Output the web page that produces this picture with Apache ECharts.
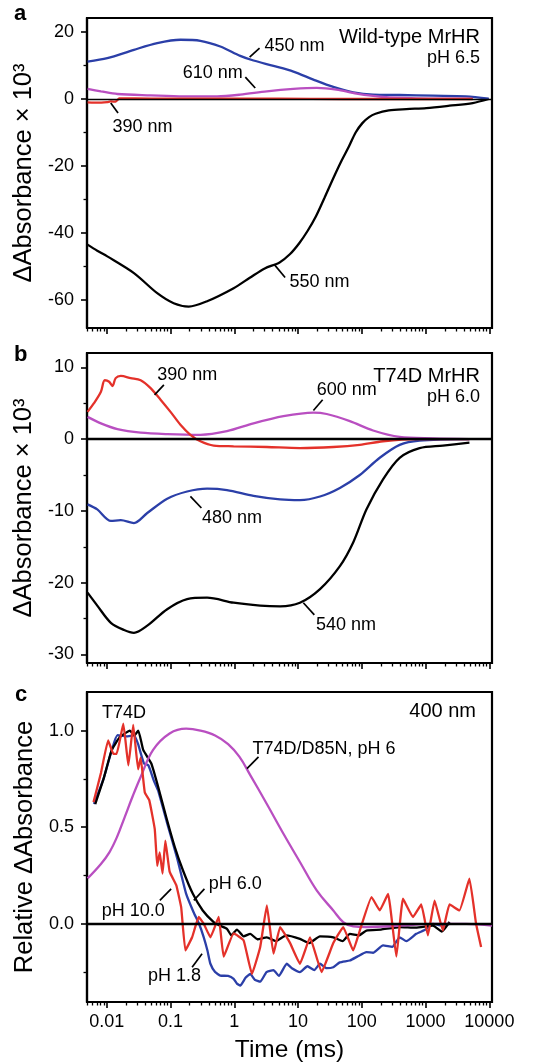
<!DOCTYPE html>
<html><head><meta charset="utf-8">
<script src="https://cdn.jsdelivr.net/npm/echarts@6.0.0/dist/echarts.min.js"></script>
<style>html,body{margin:0;padding:0;background:#fff}#c{width:535px;height:1064px}</style>
</head><body><div id="c"></div>
<script>
const FONT = '"Liberation Sans", Arial, Helvetica, sans-serif';
const BLUE = '#2b3fa8', RED = '#e4312a', MAG = '#b94fc1', BLACK = '#000';

// x axis (time, ms, log)
const timeTicks = [0.01, 0.1, 1, 10, 100, 1000, 10000];
const timeTickLabels = ['0.01', '0.1', '1', '10', '100', '1000', '10000'];
const timeMinor = [];
[0.001, 0.01, 0.1, 1, 10, 100, 1000].forEach(d => { for (let k = 2; k <= 9; k++) { const v = +(k * d).toPrecision(3); if (v >= 0.005 && v < 10000) timeMinor.push(v); } });

// y ticks
const yTicksA = [20, 0, -20, -40, -60], yMinorA = [10, -10, -30, -50];
const yTicksB = [10, 0, -10, -20, -30], yMinorB = [5, -5, -15, -25];
const yTicksC = [0, 0.5, 1], yTickLabelsC = ['0.0', '0.5', '1.0'], yMinorC = [-0.25, 0.25, 0.75];

// Panel a: wild-type MrHR, pH 6.5  [time ms, dA x 1000]
const a550 = [[0.005,-43.5],[0.0071,-45.3],[0.0102,-47],[0.0267,-52],[0.0619,-58],[0.112,-61],[0.193,-62],[0.374,-60.4],[0.977,-56.5],[1.75,-53.4],[3.0,-50.6],[5.13,-48.8],[7.5,-46.3],[10.5,-43],[14,-39.5],[19.1,-35],[26,-29.5],[34.8,-24.1],[47,-18.8],[63,-14.1],[80,-10],[102,-7.2],[130,-5.4],[164,-4.4],[265,-3.4],[500,-3.0],[1024,-2.7],[2371,-2.0],[5490,-1.2],[9770,0]];
const a450 = [[0.005,11.2],[0.0102,12.2],[0.0267,14.7],[0.0619,16.7],[0.143,17.7],[0.294,17.4],[0.604,15.7],[1.24,12.9],[2.0,11.5],[4.12,9.9],[8.45,8.2],[17.4,5.8],[35.7,3.6],[73.2,2.0],[150,1.3],[392,1.2],[1303,1.0],[4315,0.8],[9770,0.1]];
const a610 = [[0.005,3.0],[0.0081,2.3],[0.0147,1.5],[0.0487,1.1],[0.161,0.8],[0.536,0.8],[1.24,1.3],[3.24,2.3],[8.45,3.0],[19.6,3.3],[40.2,2.8],[82.5,1.6],[215,0.6],[714,0.2],[4315,0.1],[5490,0.05]];
const a390 = [[0.005,-1.0],[0.0071,-1.1],[0.0102,-0.9],[0.0116,-0.7],[0.0138,-0.8],[0.0147,-0.3],[0.0156,0.2],[0.05,0.1],[0.5,0.1],[5,0.1],[50,0],[500,0],[5490,0]];

// Panel b: T74D MrHR, pH 6.0
const b390 = [[0.005,3.8],[0.0063,5.0],[0.0081,6.6],[0.0093,8.2],[0.0109,8.0],[0.0123,7.4],[0.0138,8.5],[0.0166,8.8],[0.0237,8.5],[0.034,8.2],[0.0487,7.1],[0.0698,5.5],[0.1,3.8],[0.143,2.0],[0.205,0.6],[0.294,-0.3],[0.475,-0.9],[0.977,-1.0],[3.24,-1.1],[10.7,-1.25],[35.7,-1.1],[93,-0.8],[215,-0.3],[714,0],[4870,0]];
const b600 = [[0.005,3.1],[0.0081,2.2],[0.0147,1.4],[0.034,0.9],[0.0887,0.7],[0.294,0.6],[0.767,1.1],[2.0,2.2],[5.9,3.2],[17.4,3.7],[28.1,3.5],[64.9,2.5],[150,1.2],[392,0.3],[1303,0.1],[4870,0]];
const b480 = [[0.005,-9.1],[0.0071,-9.8],[0.0116,-11.4],[0.0166,-11.3],[0.0267,-11.7],[0.0432,-10.3],[0.0887,-8.3],[0.182,-7.3],[0.374,-6.9],[0.767,-7.1],[2.0,-7.9],[5.23,-8.4],[10.7,-8.5],[22.1,-8.0],[45.3,-6.8],[93,-5.0],[191,-2.6],[392,-0.8],[805,-0.2],[4870,0]];
const b540 = [[0.005,-21.4],[0.0071,-23.2],[0.0116,-25.6],[0.0187,-26.6],[0.0267,-27.0],[0.0432,-26.0],[0.0887,-23.7],[0.182,-22.3],[0.374,-22.1],[0.977,-22.8],[2.55,-23.2],[5.23,-23.3],[10.7,-22.8],[22.1,-20.9],[45.3,-17.7],[73.2,-14.4],[118,-9.8],[215,-5.6],[392,-2.6],[805,-1.25],[1866,-0.9],[4870,-0.5]];

// Panel c: relative dA at 400 nm
const cD85N = [[0.005,0.235],[0.0081,0.31],[0.011,0.37],[0.0145,0.45],[0.019,0.55],[0.0255,0.66],[0.034,0.76],[0.0533,0.90],[0.0968,0.985],[0.176,1.01],[0.294,1.0],[0.5,0.975],[0.8,0.93],[1.2,0.865],[1.78,0.77],[3.24,0.62],[5.9,0.466],[10.7,0.32],[19.6,0.173],[35.7,0.069],[51.1,0.009],[73.2,-0.014],[118,-0.017],[392,-0.01],[1303,0],[4315,0],[11000,-0.01]];
const cPH60 = [[0.0066,0.62],[0.0089,0.75],[0.012,0.90],[0.0161,0.967],[0.0231,1.0],[0.027,0.975],[0.0312,1.0],[0.0373,0.90],[0.05,0.83],[0.0638,0.71],[0.086,0.55],[0.116,0.40],[0.157,0.276],[0.224,0.155],[0.32,0.069],[0.475,0.009],[0.6,-0.01],[0.767,-0.026],[0.9,-0.06],[1.1,-0.03],[1.4,-0.065],[1.78,-0.052],[2.3,-0.08],[3.24,-0.07],[4.5,-0.09],[6.5,-0.06],[10.7,-0.078],[15,-0.1],[22,-0.065],[35.7,-0.07],[50,-0.09],[64.9,-0.052],[90,-0.06],[118,-0.035],[200,-0.03],[392,-0.017],[700,-0.02],[1303,-0.01],[1800,-0.04],[2371,0.01]];
const cPH18 = [[0.0063,0.62],[0.0089,0.75],[0.012,0.9],[0.0147,0.976],[0.02,0.97],[0.0267,0.975],[0.031,0.93],[0.0383,0.83],[0.045,0.82],[0.0549,0.74],[0.0638,0.69],[0.0887,0.52],[0.127,0.34],[0.176,0.155],[0.23,0.06],[0.28,0.0],[0.332,-0.07],[0.38,-0.14],[0.422,-0.207],[0.5,-0.25],[0.604,-0.268],[0.8,-0.27],[0.977,-0.285],[1.1,-0.31],[1.24,-0.32],[1.5,-0.28],[1.78,-0.26],[2.1,-0.29],[2.55,-0.30],[3.2,-0.25],[4.12,-0.24],[5,-0.27],[6.65,-0.207],[8,-0.23],[10.7,-0.25],[14,-0.22],[18,-0.24],[22.1,-0.207],[28,-0.23],[35.7,-0.225],[45,-0.2],[64.9,-0.19],[85,-0.17],[118,-0.147],[150,-0.15],[215,-0.112],[300,-0.12],[392,-0.07],[500,-0.09],[714,-0.052],[1000,-0.03],[1303,0],[1800,-0.01],[2371,0]];
const cPH100 = [[0.0062,0.63],[0.0081,0.78],[0.0105,0.95],[0.0127,0.88],[0.0143,0.88],[0.0182,1.036],[0.0218,0.82],[0.026,1.03],[0.031,0.8],[0.034,0.86],[0.0395,0.68],[0.0464,0.64],[0.0566,0.49],[0.0619,0.30],[0.0676,0.37],[0.075,0.26],[0.083,0.43],[0.0968,0.27],[0.123,0.20],[0.147,0.085],[0.171,-0.138],[0.218,-0.07],[0.277,0.035],[0.332,0],[0.422,-0.07],[0.569,0.035],[0.681,-0.17],[0.977,-0.05],[1.40,-0.086],[1.89,-0.26],[2.55,-0.12],[3.24,0.095],[4.12,-0.155],[5.23,-0.017],[7.5,-0.10],[10.7,-0.207],[15.4,-0.07],[23.4,-0.25],[35.7,-0.10],[51.1,-0.017],[73.2,-0.138],[93,-0.035],[142,0.138],[191,0.069],[258,0.155],[348,-0.17],[442,0.13],[634,0.035],[855,0.10],[1086,-0.06],[1383,0.12],[1866,-0.035],[2371,0.10],[3398,0.069],[4870,0.233],[6190,0],[7420,-0.12]];

// curve annotations (data coords): text anchor + leader line
const notesA = [
  {text:'450 nm', at:[2.98,15.9], side:'left', lead:[[1.74,12.5],[2.49,15.2]]},
  {text:'610 nm', at:[1.36,7.7], side:'right', lead:[[1.49,6.55],[2.13,3.3]]},
  {text:'390 nm', at:[0.0123,-8.4], side:'left', lead:[[0.01155,-1.2],[0.01503,-4.2]]},
  {text:'550 nm', at:[7.33,-54.6], side:'left', lead:[[4.22,-49.4],[6.27,-53.3]]}
];
const notesB = [
  {text:'390 nm', at:[0.0619,8.96], side:'left', lead:[[0.0562,6.17],[0.0787,7.56]]},
  {text:'600 nm', at:[19.6,6.78], side:'left', lead:[[17.4,3.99],[24.3,5.48]]},
  {text:'480 nm', at:[0.3125,-11.0], side:'left', lead:[[0.205,-7.98],[0.305,-9.6]]},
  {text:'540 nm', at:[19.1,-25.85], side:'left', lead:[[12.1,-22.8],[18.0,-24.5]]}
];
const notesC = [
  {text:'T74D', at:[0.01866,1.09], side:'center', lead:null},
  {text:'T74D/D85N, pH 6', at:[1.93,0.907], side:'left', lead:[[1.58,0.803],[2.40,0.864]]},
  {text:'pH 6.0', at:[0.397,0.207], side:'left', lead:[[0.232,0.121],[0.34,0.181]]},
  {text:'pH 10.0', at:[0.00835,0.066], side:'left', lead:[[0.068,0.121],[0.1023,0.181]]},
  {text:'pH 1.8', at:[0.0442,-0.273], side:'left', lead:[[0.218,-0.2245],[0.3125,-0.155]]}
];

const grids = [
  {left: 87, right: 43, top: 18, height: 310},
  {left: 87, right: 43, top: 353, height: 310},
  {left: 87, right: 43, top: 692, height: 310}
];

function nearestLabel(v, ticks, labels) {
  let best = -1, bd = 1e9;
  ticks.forEach((t, i) => { const d = Math.abs(t - v); if (d < bd) { bd = d; best = i; } });
  return bd < 1e-6 + Math.abs(v) * 1e-3 ? labels[best] : '';
}

const xAxes = [], yAxes = [];
[0, 1, 2].forEach(gi => {
  const showLab = gi === 2;
  xAxes.push({
    type: 'log', logBase: 10, gridIndex: gi, min: 0.0049, max: 11000, position: 'bottom',
    axisLine: {show: true, onZero: false, lineStyle: {color: '#000', width: 2.2}},
    axisTick: {show: true, inside: false, length: 6, customValues: timeTicks, lineStyle: {color: '#000', width: 1.6}},
    axisLabel: {show: showLab, customValues: timeTicks, margin: 11, fontSize: 18, color: '#000', fontFamily: FONT,
      formatter: v => { const lv = Math.log10(v); let s = ''; timeTicks.forEach((t, i) => { if (Math.abs(Math.log10(t) - lv) < 0.01) s = timeTickLabels[i]; }); return s; }},
    splitLine: {show: false},
    name: showLab ? 'Time (ms)' : '', nameLocation: 'middle', nameGap: 36,
    nameTextStyle: {fontSize: 24.5, color: '#000', fontFamily: FONT}
  });
  xAxes.push({
    type: 'log', logBase: 10, gridIndex: gi, min: 0.0049, max: 11000, position: 'bottom',
    axisLine: {show: false, onZero: false},
    axisTick: {show: true, inside: false, length: 3.5, customValues: timeMinor, lineStyle: {color: '#000', width: 1.3}},
    axisLabel: {show: false}, splitLine: {show: false}
  });
});

const yCfg = [
  {min: -68.4, max: 24.2, ticks: yTicksA, labels: yTicksA.map(String), minor: yMinorA, name: 'ΔAbsorbance × 10³'},
  {min: -31.2, max: 12, ticks: yTicksB, labels: yTicksB.map(String), minor: yMinorB, name: 'ΔAbsorbance × 10³'},
  {min: -0.405, max: 1.2, ticks: yTicksC, labels: yTickLabelsC, minor: yMinorC, name: 'Relative ΔAbsorbance'}
];
yCfg.forEach((c, gi) => {
  yAxes.push({
    type: 'value', gridIndex: gi, min: c.min, max: c.max, position: 'left',
    axisLine: {show: true, onZero: false, lineStyle: {color: '#000', width: 2.2}},
    axisTick: {show: true, inside: false, length: 6, customValues: c.ticks, lineStyle: {color: '#000', width: 1.6}},
    axisLabel: {show: true, customValues: c.ticks, margin: 13, fontSize: 18, color: '#000', fontFamily: FONT,
      formatter: v => nearestLabel(v, c.ticks, c.labels)},
    splitLine: {show: false},
    name: c.name, nameLocation: 'middle', nameGap: 47, nameRotate: 90,
    nameTextStyle: {fontSize: 25.5, color: '#000', fontFamily: FONT}
  });
  yAxes.push({
    type: 'value', gridIndex: gi, min: c.min, max: c.max, position: 'left',
    axisLine: {show: false, onZero: false},
    axisTick: {show: true, inside: false, length: 3.5, customValues: c.minor, lineStyle: {color: '#000', width: 1.3}},
    axisLabel: {show: false}, splitLine: {show: false}
  });
});

function curve(name, data, color, gi, opts) {
  return Object.assign({
    type: 'line', name, data, xAxisIndex: gi * 2, yAxisIndex: gi * 2,
    showSymbol: false, symbol: 'none', smooth: 0.3,
    lineStyle: {color, width: 2.3}, itemStyle: {color}, silent: true
  }, opts || {});
}
function zeroLine(gi, width) {
  return {
    type: 'line', data: [], xAxisIndex: gi * 2, yAxisIndex: gi * 2, silent: true, z: 1,
    markLine: {silent: true, symbol: ['none', 'none'], label: {show: false},
      lineStyle: {color: '#000', width, type: 'solid'}, data: [{yAxis: 0}]}
  };
}
function notes(list, gi) {
  const out = [];
  out.push({
    type: 'lines', coordinateSystem: 'cartesian2d', xAxisIndex: gi * 2, yAxisIndex: gi * 2, silent: true, z: 6,
    symbol: ['none', 'none'], lineStyle: {color: '#000', width: 1.7, opacity: 1},
    data: list.filter(n => n.lead).map(n => ({coords: n.lead}))
  });
  out.push({
    type: 'scatter', xAxisIndex: gi * 2, yAxisIndex: gi * 2, silent: true, z: 7, symbolSize: 0,
    itemStyle: {opacity: 1, color: '#000'},
    data: list.map(n => ({
      value: n.at,
      label: {show: true, formatter: n.text, distance: 0, opacity: 1,
        position: n.side === 'left' ? 'right' : (n.side === 'right' ? 'left' : 'inside'),
        color: '#000', fontSize: 18, fontFamily: FONT}
    }))
  });
  return out;
}

const series = [
  zeroLine(0, 1.4),
  curve('550 nm', a550, BLACK, 0),
  curve('450 nm', a450, BLUE, 0),
  curve('610 nm', a610, MAG, 0),
  curve('390 nm', a390, RED, 0, {smooth: 0.1}),
  ...notes(notesA, 0),
  curve('540 nm', b540, BLACK, 1),
  curve('480 nm', b480, BLUE, 1),
  curve('600 nm', b600, MAG, 1),
  curve('390 nm', b390, RED, 1),
  zeroLine(1, 2.4),
  ...notes(notesB, 1),
  curve('pH 1.8', cPH18, BLUE, 2, {smooth: 0.15}),
  curve('pH 6.0', cPH60, BLACK, 2, {smooth: 0.15}),
  curve('T74D/D85N, pH 6', cD85N, MAG, 2, {smooth: 0.4}),
  curve('pH 10.0', cPH100, RED, 2, {smooth: 0.1}),
  zeroLine(2, 2.4),
  ...notes(notesC, 2)
];

const titleStyle = (text, size, weight) => ({text, fill: '#000', font: (weight || 'normal') + ' ' + size + 'px ' + FONT});
const option = {
  animation: false,
  backgroundColor: '#fff',
  grid: grids.map(g => Object.assign({show: true, borderColor: '#000', borderWidth: 2.2, backgroundColor: 'transparent', containLabel: false}, g)),
  xAxis: xAxes,
  yAxis: yAxes,
  series,
  graphic: [
    {type: 'text', left: 14, top: 3, style: titleStyle('a', 22, 'bold')},
    {type: 'text', left: 14, top: 344, style: titleStyle('b', 22, 'bold')},
    {type: 'text', left: 15, top: 684, style: titleStyle('c', 22, 'bold')},
    {type: 'text', right: 55, top: 27, style: titleStyle('Wild-type MrHR', 20)},
    {type: 'text', right: 55, top: 49, style: titleStyle('pH 6.5', 18)},
    {type: 'text', right: 55, top: 366, style: titleStyle('T74D MrHR', 20)},
    {type: 'text', right: 55, top: 388, style: titleStyle('pH 6.0', 18)},
    {type: 'text', right: 59, top: 701, style: titleStyle('400 nm', 20)}
  ]
};
const chart = echarts.init(document.getElementById('c'), null, {renderer: 'canvas'});
chart.setOption(option);
</script></body></html>
